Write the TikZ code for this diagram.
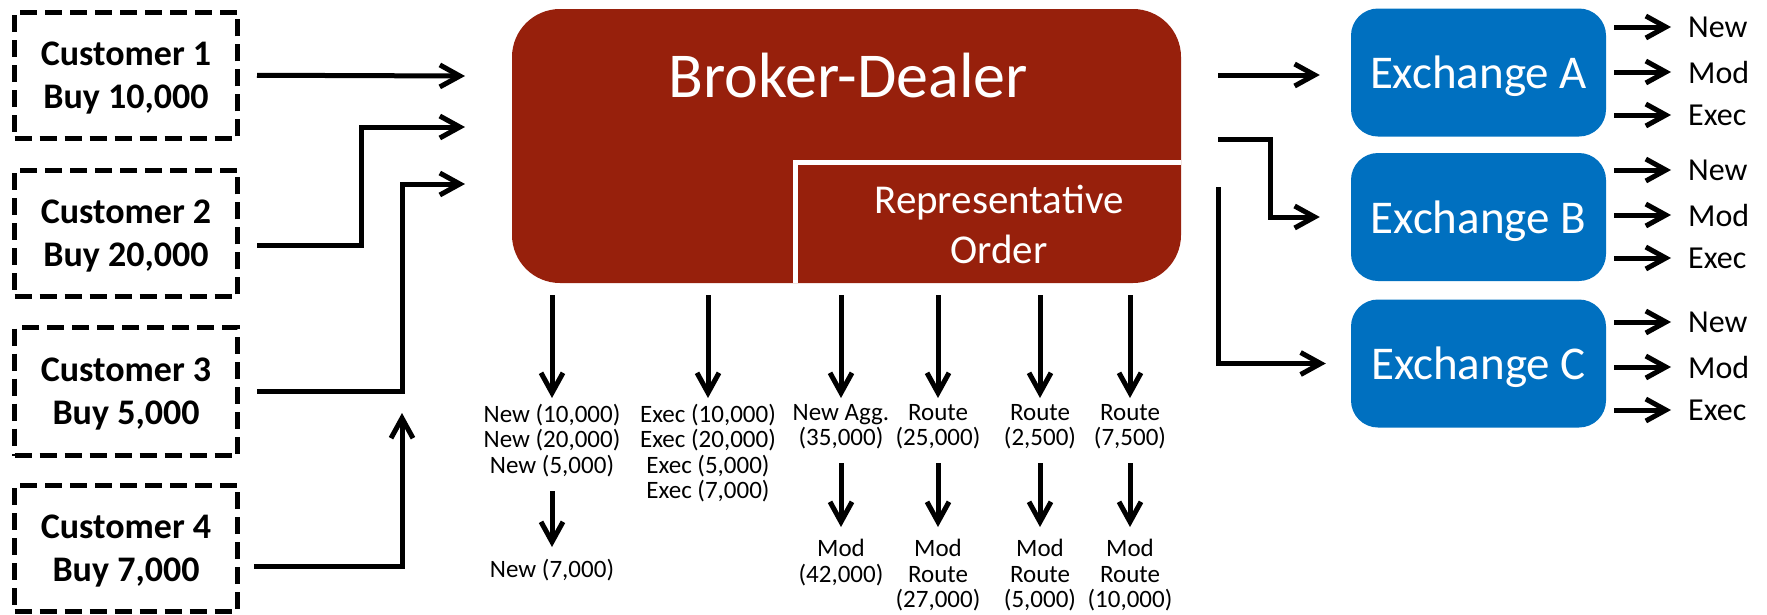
\documentclass[tikz,border=0pt]{standalone}
\usepackage{fontspec}
\setmainfont{Carlito}
\usetikzlibrary{arrows.meta}
\definecolor{bdred}{HTML}{97200C}
\definecolor{exblue}{HTML}{0070C0}
\tikzset{
  flow/.style={line width=5pt,-{Straight Barb[length=20pt,width=22pt]}},
  custbox/.style={draw,line width=5pt,dash pattern=on 17pt off 8pt,minimum width=223pt,minimum height=126pt,align=center,text depth=0pt,font=\fontsize{36}{43}\selectfont\bfseries},
  bdbox/.style={fill=bdred,rounded corners=48pt,minimum width=669pt,minimum height=274pt},
  exbox/.style={fill=exblue,rounded corners=27pt,minimum width=255pt,minimum height=128pt,text=white,text depth=0pt,font=\fontsize{47}{56}\selectfont},
  msg/.style={align=center,inner sep=0pt,anchor=north,font=\fontsize{25}{25.5}\selectfont},
  exmsg/.style={inner sep=0pt,anchor=west,font=\fontsize{32}{38}\selectfont}
}
\begin{document}
\begin{tikzpicture}[x=1pt,y=-1pt]
\useasboundingbox (0,0) rectangle (1767,614);
%customers
\node[custbox] (cust1) at (126,75.25) {Customer 1\\Buy 10,000};
\node[custbox] (cust2) at (126,233.25) {Customer 2\\Buy 20,000};
\node[custbox,minimum height=128pt] (cust3) at (126,391.5) {Customer 3\\Buy 5,000};
\node[custbox] (cust4) at (126,548) {Customer 4\\Buy 7,000};
%broker-dealer
\node[bdbox] (broker) at (846.5,146) {};
\node[text=white,font=\fontsize{64}{77}\selectfont] (bdname) at (848,76) {Broker-Dealer};
\coordinate (sep) at (795,162);
\draw[white,line width=5pt] (sep |- broker.south) -- (sep) -- (sep -| broker.east);
\node[text=white,align=center,font=\fontsize{41}{50}\selectfont] (reporder) at (999,224) {Representative\\Order};
%exchanges
\node[exbox] (exA) at (1478.5,72.5) {Exchange A};
\node[exbox] (exB) at (1478.5,217) {Exchange B};
\node[exbox] (exC) at (1478.5,363.5) {Exchange C};
%orders in
\coordinate (in1) at (465,76);
\coordinate (in2) at (465,127);
\coordinate (in3) at (465,184);
\coordinate (k2) at (361,127);
\coordinate (k3) at (402,184);
\coordinate (k4) at (402,413);
\draw[flow] ([xshift=17pt]cust1.east) -- (in1);
\draw[flow] ([xshift=17pt,yshift=-12pt]cust2.east) -| (k2) -- (in2);
\draw[flow] ([xshift=17pt]cust3.east) -| (k3) -- (in3);
\draw[flow] ([xshift=14pt,yshift=-18pt]cust4.east) -| (k4);
%routes out
\coordinate (out1) at (1218,75);
\coordinate (out2) at (1218,139);
\coordinate (out3) at (1218,187);
\coordinate (k5) at (1270,217);
\draw[flow] (out1) -- ([xshift=-31pt]exA.west |- out1);
\draw[flow] (out2) -| (k5) -- ([xshift=-31pt]exB.west |- k5);
\draw[flow] (out3) |- ([xshift=-25pt]exC.west);
%exchange messages
\foreach \e/\y in {A/27,B/170,C/322}{
  \node[exmsg] (new\e) at (1688,\y) {New};
  \node[exmsg] (mod\e) at (1688,\y+45) {Mod};
  \node[exmsg] (exec\e) at (1688,\y+88) {Exec};
  \foreach \m in {new,mod,exec}
    \draw[flow] ([xshift=8pt]ex\e.east |- \m\e.west) -- ([xshift=-17pt]\m\e.west);
}
%messages sent by the broker-dealer
\node[msg] (top1) at (552,404) {New (10,000)\\New (20,000)\\New (5,000)};
\node[msg] (top2) at (708,404) {Exec (10,000)\\Exec (20,000)\\Exec (5,000)\\Exec (7,000)};
\node[msg] (top3) at (841,404) {New Agg.\\(35,000)};
\node[msg] (top4) at (938,404) {Route\\(25,000)};
\node[msg] (top5) at (1040,404) {Route\\(2,500)};
\node[msg] (top6) at (1130,404) {Route\\(7,500)};
\node[msg] (low1) at (552,559) {New (7,000)};
\node[msg] (low3) at (841,539) {Mod\\(42,000)};
\node[msg] (low4) at (938,539) {Mod\\Route\\(27,000)};
\node[msg] (low5) at (1040,539) {Mod\\Route\\(5,000)};
\node[msg] (low6) at (1130,539) {Mod\\Route\\(10,000)};
\foreach \n in {1,...,6}
  \draw[flow] ([yshift=-12pt]top\n.north |- broker.south) -- ([yshift=6pt]top\n.north);
\foreach \n in {1,3,4,5,6}
  \draw[flow] ([yshift=-14pt]top\n.south) -- ([yshift=12pt]low\n.north);
\end{tikzpicture}
\end{document}
